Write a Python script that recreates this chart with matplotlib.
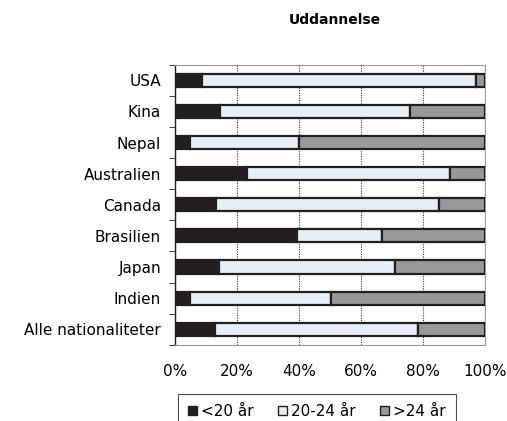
import matplotlib.pyplot as plt
import numpy as np

# Data (percent shares per nationality)
categories = ['USA', 'Kina', 'Nepal', 'Australien', 'Canada', 'Brasilien',
              'Japan', 'Indien', 'Alle nationaliteter']
under20 = [8.8, 14.5, 4.8, 23.3, 13.2, 39.5, 14.2, 4.8, 12.9]
age20_24 = [88.3, 61.3, 35.2, 65.4, 72.0, 27.4, 56.6, 45.4, 65.3]
over24 = [2.9, 24.2, 60.0, 11.3, 14.8, 33.1, 29.2, 49.8, 21.8]
series_names = ['<20 år', '20-24 år', '>24 år']
colors = ['#231f20', '#e6eef6', '#98999b']
edge = '#231f20'

fig = plt.figure(figsize=(5.07, 4.21), dpi=100)
ax = fig.add_axes([0.345, 0.181, 0.612, 0.665])

y = np.arange(len(categories))[::-1]
left = np.zeros(len(categories))
for vals, name, c in zip([under20, age20_24, over24], series_names, colors):
    ax.barh(y, vals, left=left, height=0.42, color=c, edgecolor=edge,
            linewidth=1.6, label=name, zorder=3)
    left = left + np.array(vals)

ax.set_xlim(0, 100)
ax.set_ylim(-0.5, len(categories) - 0.5)
ax.set_xticks([0, 20, 40, 60, 80, 100])
ax.set_xticklabels(['0%', '20%', '40%', '60%', '80%', '100%'], fontsize=11)
ax.set_yticks(y)
ax.set_yticklabels(categories, fontsize=11)
ax.set_yticks(np.arange(len(categories) + 1) - 0.5, minor=True)
ax.tick_params(axis='y', which='major', length=0, pad=10)
ax.tick_params(axis='y', which='minor', length=4, direction='out', color='#231f20')
ax.tick_params(axis='x', length=0, pad=14)

ax.grid(axis='x', linestyle=(0, (1, 1.2)), color='#333333', linewidth=0.8, zorder=0)
for s in ['top', 'right', 'bottom']:
    ax.spines[s].set_color('#999999')
    ax.spines[s].set_linewidth(0.8)
ax.spines['left'].set_color('#231f20')
ax.spines['left'].set_linewidth(1.0)

fig.text(0.66, 0.952, 'Uddannelse', ha='center', va='center',
         fontsize=10, fontweight='bold')

leg = fig.legend(loc='upper center', bbox_to_anchor=(0.625, 0.064), ncol=3,
                 frameon=True, fancybox=False, fontsize=11,
                 handlelength=0.6, handleheight=0.6, handletextpad=0.25,
                 columnspacing=1.6, borderpad=0.65, borderaxespad=0)
leg.get_frame().set_edgecolor('#231f20')
leg.get_frame().set_linewidth(0.8)
for h in leg.legend_handles:
    h.set_linewidth(1.0)

fig.savefig('out.png', dpi=100)
